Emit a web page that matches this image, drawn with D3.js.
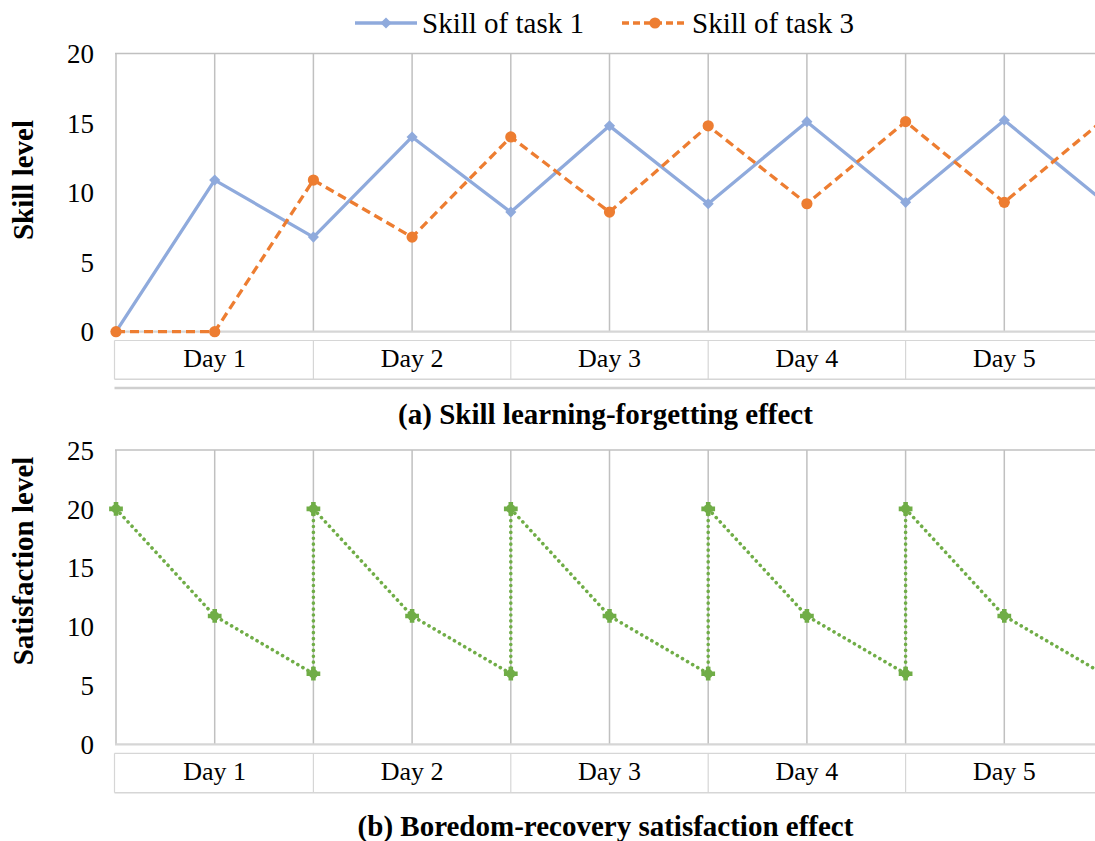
<!DOCTYPE html>
<html>
<head>
<meta charset="utf-8">
<script src="https://cdn.jsdelivr.net/npm/d3@7/dist/d3.min.js"></script>
<style>
  html, body { margin: 0; padding: 0; background: #fff; overflow: hidden; }
  svg { display: block; }
</style>
</head>
<body>
<svg id="chart" width="1095" height="841"></svg>
<script>
// Half-day steps along the horizontal axis (two per day, last one is the start of day 6)
const steps = [0, 1, 2, 3, 4, 5, 6, 7, 8, 9, 10];
const days = ["Day 1", "Day 2", "Day 3", "Day 4", "Day 5"];

// (a) skill levels per half-day step
const skillTask1 = [0, 10.9, 6.8, 14.0, 8.6, 14.8, 9.2, 15.1, 9.3, 15.2, 9.4];
const skillTask3 = [0, 0, 10.9, 6.8, 14.0, 8.6, 14.8, 9.2, 15.1, 9.3, 15.2];
const skillTicks = [0, 5, 10, 15, 20];

// (b) satisfaction: each day resets to 20 at the same step where it bottoms out
const satStep = [0, 1, 2, 2, 3, 4, 4, 5, 6, 6, 7, 8, 8, 9, 10];
const satValues = [20, 10.9, 6.0, 20, 10.9, 6.0, 20, 10.9, 6.0, 20, 10.9, 6.0, 20, 10.9, 6.0];
const satTicks = [0, 5, 10, 15, 20, 25];

const seriesNames = ["Skill of task 1", "Skill of task 3"];

const FONT = "'Liberation Serif', Tinos, 'Nimbus Roman', 'Times New Roman', Times, 'DejaVu Serif', serif";

const C = {
  blue: "#8faadc",
  orange: "#ed7d31",
  green: "#70ad47",
  grid: "#c0c0c0",
  axis: "#d6d6d6",
  box: "#d6d6d6"
};

const W = 1095;
const svg = d3.select("#chart").attr("font-family", FONT);

const x = d3.scaleLinear().domain([0, 10]).range([116, 1103]);
const midX = (116 + W) / 2;

// Diamond marker: a square turned by 45 degrees
const diamondPath = d3.symbol().type(d3.symbolSquare).size(62)();

function txt(sel) {
  return sel.style("font-family", FONT).attr("fill", "#000");
}

function panel(opts) {
  const g = svg.append("g");
  const y = d3.scaleLinear().domain(opts.domain).range([opts.bottom, opts.top]);

  // vertical gridlines at every step
  g.append("g").selectAll("line").data(steps).join("line")
    .attr("x1", d => x(d)).attr("x2", d => x(d))
    .attr("y1", opts.top).attr("y2", opts.bottom)
    .attr("stroke", C.grid).attr("stroke-width", 1.5);

  // top border of the plot area
  g.append("line")
    .attr("x1", x(0) - 1).attr("x2", W)
    .attr("y1", opts.top).attr("y2", opts.top)
    .attr("stroke", C.grid).attr("stroke-width", 1.5);

  // y axis labels
  const yAxis = d3.axisLeft(y).tickValues(opts.ticks).tickSize(0).tickPadding(0)
    .tickFormat(d3.format("d"));
  const ya = g.append("g").attr("transform", "translate(94,0)").call(yAxis);
  ya.attr("font-family", null).attr("font-size", null);
  ya.select(".domain").remove();
  txt(ya.selectAll("text"))
    .attr("font-size", 27).attr("dy", "0.34em");

  // y axis title
  txt(g.append("text"))
    .attr("transform", `translate(33,${opts.titleY}) rotate(-90)`)
    .attr("text-anchor", "middle")
    .attr("font-size", 29).attr("font-weight", "bold")
    .text(opts.yTitle);

  // category axis line
  g.append("line")
    .attr("x1", x(0) - 1).attr("x2", W)
    .attr("y1", opts.bottom).attr("y2", opts.bottom)
    .attr("stroke", C.axis).attr("stroke-width", 2.2);

  // day label boxes (each day covers two steps)
  const bx = g.append("g");
  bx.append("line").attr("x1", x(0) - 1.5).attr("x2", W)
    .attr("y1", opts.boxTop).attr("y2", opts.boxTop)
    .attr("stroke", C.box).attr("stroke-width", 1.2);
  bx.append("line").attr("x1", x(0) - 1.5).attr("x2", W)
    .attr("y1", opts.boxBottom).attr("y2", opts.boxBottom)
    .attr("stroke", C.box).attr("stroke-width", 1.6);
  bx.selectAll("line.div").data(d3.range(0, days.length + 1)).join("line")
    .attr("class", "div")
    .attr("x1", i => i === 0 ? x(0) - 1.5 : x(i * 2))
    .attr("x2", i => i === 0 ? x(0) - 1.5 : x(i * 2))
    .attr("y1", opts.boxTop).attr("y2", opts.boxBottom)
    .attr("stroke", C.box).attr("stroke-width", 1.2);
  txt(bx.selectAll("text").data(days).join("text"))
    .attr("x", (d, i) => (x(i * 2) + x(i * 2 + 2)) / 2)
    .attr("y", opts.boxBottom - 12.5)
    .attr("text-anchor", "middle")
    .attr("font-size", 26)
    .text(d => d);

  if (opts.sepLine) {
    g.append("line").attr("x1", x(0) - 1.5).attr("x2", W)
      .attr("y1", opts.sepLine).attr("y2", opts.sepLine)
      .attr("stroke", "#cfcfcf").attr("stroke-width", 2.4);
  }

  // panel caption
  txt(g.append("text"))
    .attr("x", midX).attr("y", opts.captionY)
    .attr("text-anchor", "middle")
    .attr("font-size", 29).attr("font-weight", "bold")
    .text(opts.caption);

  return { g, y };
}

// ---------- (a) skill learning-forgetting ----------
const pa = panel({
  domain: [0, 20], top: 53.5, bottom: 331.7, ticks: skillTicks,
  yTitle: "Skill level", titleY: 180,
  boxTop: 340.5, boxBottom: 379.3, sepLine: 388,
  caption: "(a) Skill learning-forgetting effect", captionY: 424
});

const lineA = d3.line().x((d, i) => x(steps[i])).y(d => pa.y(d));

pa.g.append("path").datum(skillTask1)
  .attr("d", lineA).attr("fill", "none")
  .attr("stroke", C.blue).attr("stroke-width", 3.3).attr("stroke-linejoin", "round");
pa.g.append("path").datum(skillTask3)
  .attr("d", lineA).attr("fill", "none")
  .attr("stroke", C.orange).attr("stroke-width", 3.3).attr("stroke-dasharray", "9,5");

pa.g.append("g").selectAll("path").data(skillTask1).join("path")
  .attr("d", diamondPath)
  .attr("transform", (d, i) => `translate(${x(steps[i])},${pa.y(d)}) rotate(45)`)
  .attr("fill", C.blue);
pa.g.append("g").selectAll("circle").data(skillTask3).join("circle")
  .attr("cx", (d, i) => x(steps[i])).attr("cy", d => pa.y(d)).attr("r", 5.6)
  .attr("fill", C.orange);

// legend
const legend = svg.append("g");
const legItems = [
  { name: seriesNames[0], color: C.blue, dash: null, x0: 355, x1: 417, tx: 422 },
  { name: seriesNames[1], color: C.orange, dash: "7,4", x0: 622, x1: 688, tx: 692 }
];
const legY = 23;
legItems.forEach((it, k) => {
  legend.append("line")
    .attr("x1", it.x0).attr("x2", it.x1).attr("y1", legY).attr("y2", legY)
    .attr("stroke", it.color).attr("stroke-width", 3.3)
    .attr("stroke-dasharray", it.dash);
  const cx = (it.x0 + it.x1) / 2;
  if (k === 0) {
    legend.append("path").attr("d", diamondPath)
      .attr("transform", `translate(${cx},${legY}) rotate(45)`).attr("fill", it.color);
  } else {
    legend.append("circle").attr("cx", cx).attr("cy", legY).attr("r", 5.6).attr("fill", it.color);
  }
  txt(legend.append("text")).attr("x", it.tx).attr("y", legY).attr("dy", "0.34em")
    .attr("font-size", 29).text(it.name);
});

// ---------- (b) boredom-recovery satisfaction ----------
const pb = panel({
  domain: [0, 25], top: 450, bottom: 744.3, ticks: satTicks,
  yTitle: "Satisfaction level", titleY: 561,
  boxTop: 753.3, boxBottom: 792.7, sepLine: null,
  caption: "(b) Boredom-recovery satisfaction effect", captionY: 836
});

const lineB = d3.line().x((d, i) => x(satStep[i])).y(d => pb.y(d));
pb.g.append("path").datum(satValues)
  .attr("d", lineB).attr("fill", "none")
  .attr("stroke", C.green).attr("stroke-width", 3.6)
  .attr("stroke-linecap", "round").attr("stroke-dasharray", "0.1,5.8");

const crossPath = d3.symbol().type(d3.symbolCross).size(105)();
const gm = pb.g.append("g");
gm.selectAll("path").data(satValues).join("path")
  .attr("d", crossPath)
  .attr("transform", (d, i) => `translate(${x(satStep[i])},${pb.y(d)})`)
  .attr("fill", C.green);
gm.selectAll("circle").data(satValues).join("circle")
  .attr("cx", (d, i) => x(satStep[i])).attr("cy", d => pb.y(d)).attr("r", 4.6)
  .attr("fill", C.green);
</script>
</body>
</html>
